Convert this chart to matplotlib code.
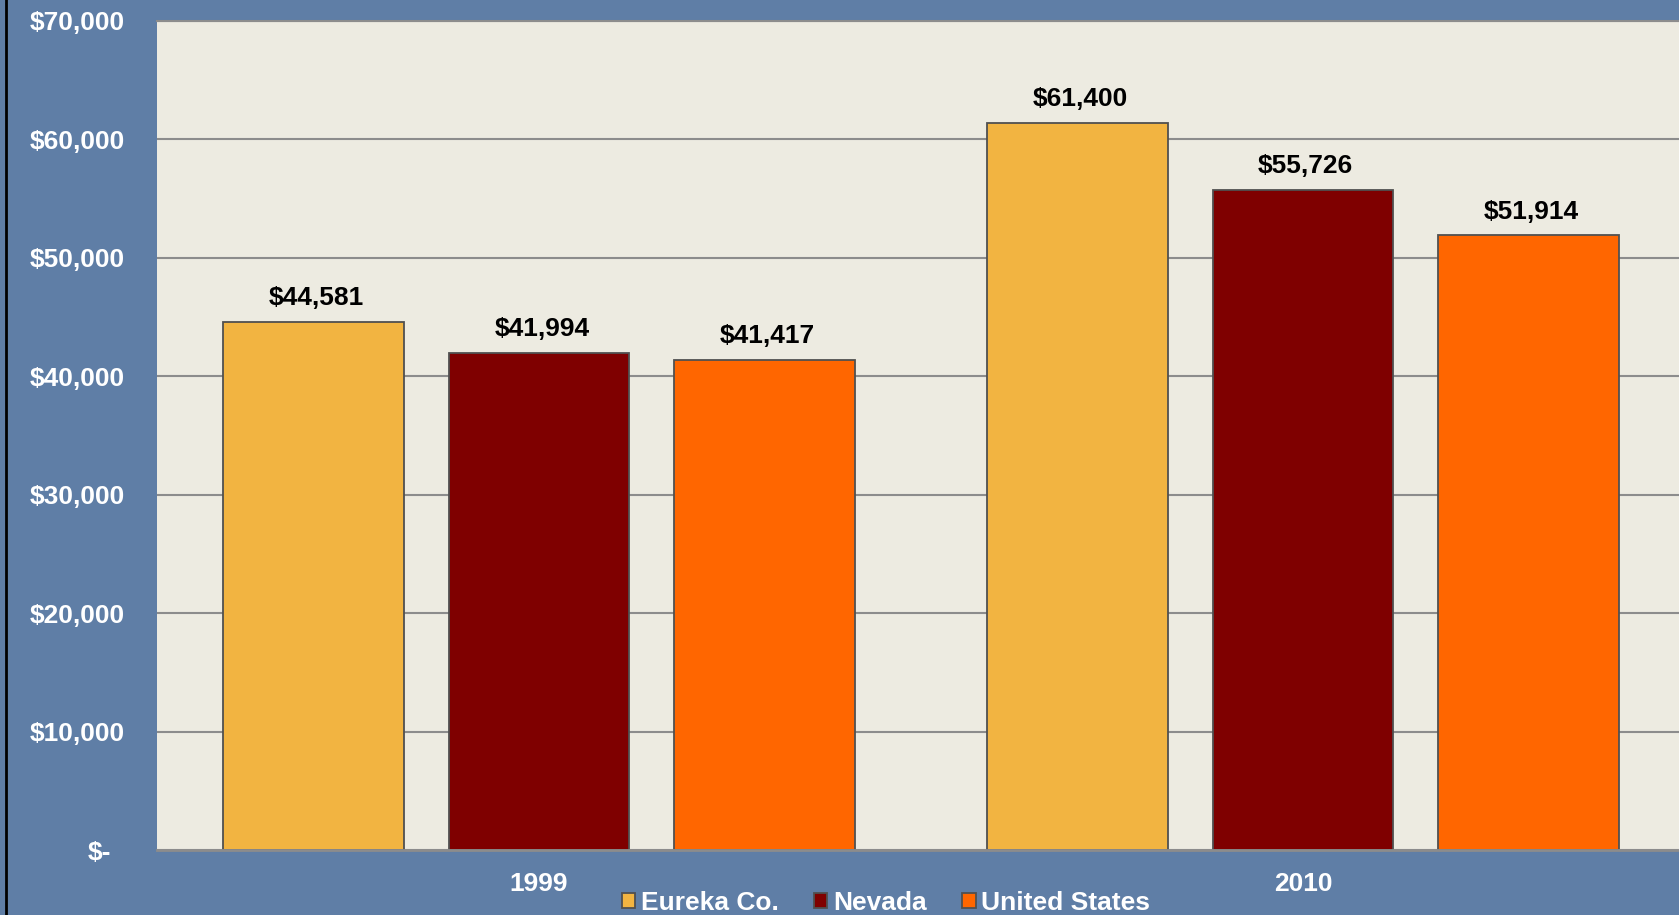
import matplotlib.pyplot as plt
import matplotlib.transforms as mtransforms
from matplotlib.patches import Rectangle
from matplotlib.lines import Line2D

# data
years = ["1999", "2010"]
series = ["Eureka Co.", "Nevada", "United States"]
eureka = [44581, 61400]
nevada = [41994, 55726]
usa = [41417, 51914]
y_ticks = [0, 10000, 20000, 30000, 40000, 50000, 60000, 70000]

# style
bg_blue = "#5F7EA6"
plot_bg = "#EDEBE1"
colors = ["#F2B441", "#7F0000", "#FF6600"]
edge = "#505050"
grid_c = "#8C8C8C"

plt.rcParams["font.family"] = ["Liberation Sans", "DejaVu Sans"]
plt.rcParams["font.weight"] = "bold"

fig = plt.figure(figsize=(16.79, 9.15), dpi=100, facecolor=bg_blue)
ax = fig.add_axes([157 / 1679, 65 / 915, (1685 - 157) / 1679, (850 - 21) / 915])
ax.set_facecolor(plot_bg)

offsets = [-0.295, 0.0, 0.295]
width = 0.236
x = list(range(len(years)))

for i, (vals, col) in enumerate(zip([eureka, nevada, usa], colors)):
    xs = [xi + offsets[i] for xi in x]
    ax.bar(xs, vals, width=width, color=col, edgecolor=edge, linewidth=1.3, zorder=3)
    for xv, v in zip(xs, vals):
        ax.annotate(f"${v:,}", xy=(xv, v), xytext=(2, 12), textcoords="offset points",
                    ha="center", va="baseline", fontsize=19, fontweight="bold",
                    color="black", zorder=4)

ax.set_xlim(-0.5, 1.5)
ax.set_ylim(0, 70000)

ax.set_yticks(y_ticks)
ax.set_yticklabels(["$-" if t == 0 else f"${t:,}" for t in y_ticks])
ax.set_xticks(x)
ax.set_xticklabels(years)
ax.tick_params(axis="y", length=0, pad=23, labelsize=19, labelcolor="white")
ax.tick_params(axis="x", length=0, pad=16, labelsize=19, labelcolor="white")
for lab in ax.get_yticklabels() + ax.get_xticklabels():
    lab.set_fontweight("bold")

# "$-" sits a bit further left
shift = mtransforms.ScaledTranslation(-14 / 100, 0, fig.dpi_scale_trans)
zero_lab = ax.get_yticklabels()[0]
zero_lab.set_transform(zero_lab.get_transform() + shift)

ax.grid(axis="y", color=grid_c, linewidth=1.5, zorder=1)
ax.grid(axis="x", visible=False)
for s in ["left", "right"]:
    ax.spines[s].set_visible(False)
ax.spines["top"].set_color(grid_c)
ax.spines["top"].set_linewidth(1.5)
ax.spines["bottom"].set_color(grid_c)
ax.spines["bottom"].set_linewidth(2)
ax.spines["bottom"].set_zorder(5)

# legend
handles = [Rectangle((0, 0), 1, 1, facecolor=c, edgecolor=edge, linewidth=1.3) for c in colors]
leg = fig.legend(handles, series, loc="center", bbox_to_anchor=(886 / 1679, 1 - 903 / 915),
                 ncol=3, frameon=False, handlelength=0.5, handleheight=0.5,
                 handletextpad=0.22, columnspacing=1.35,
                 prop={"size": 19, "weight": "bold"})
for t in leg.get_texts():
    t.set_color("white")

# dark border line on the left edge
fig.add_artist(Line2D([6 / 1679, 6 / 1679], [0, 1], transform=fig.transFigure,
                      color="black", linewidth=2))

fig.savefig("out.png", dpi=100, facecolor=bg_blue)
